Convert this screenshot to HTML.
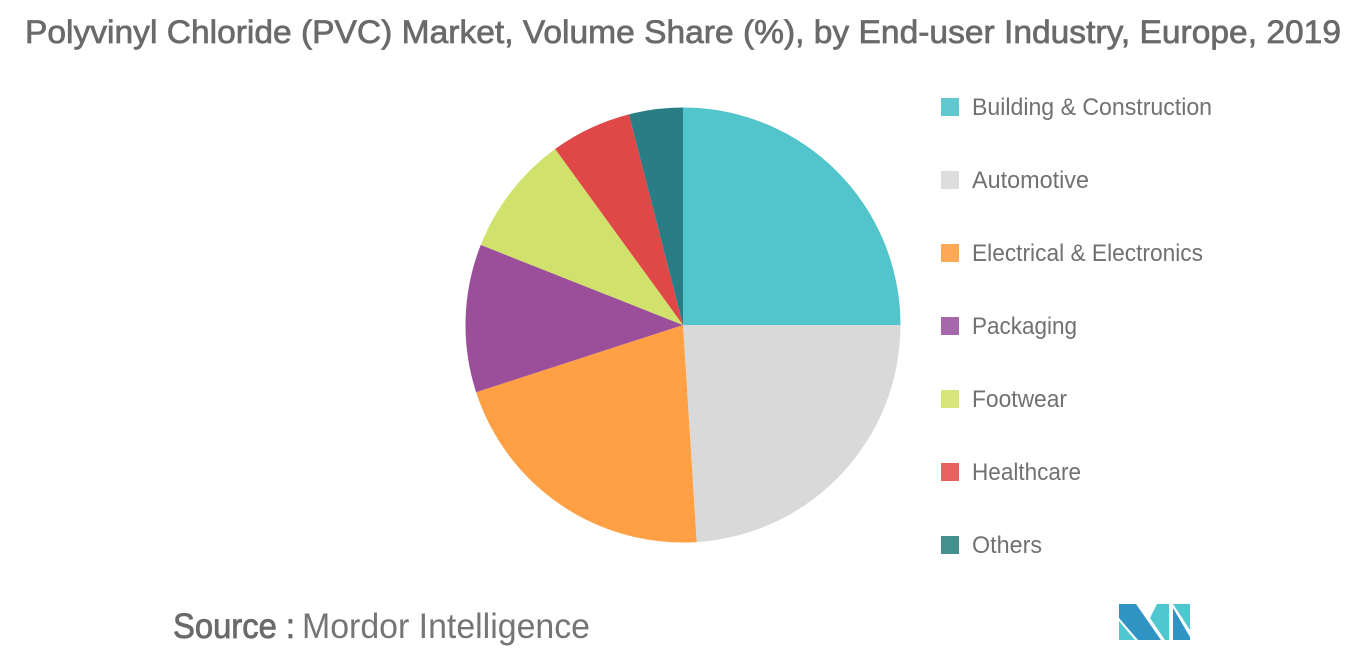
<!DOCTYPE html>
<html lang="en">
<head>
<meta charset="utf-8">
<title>Polyvinyl Chloride (PVC) Market, Volume Share</title>
<style>
html,body{margin:0;padding:0;background:#fff;width:1366px;height:655px;overflow:hidden}
svg{display:block}
text{font-family:"Liberation Sans",sans-serif}
</style>
</head>
<body>
<svg id="chart" width="1366" height="655" viewBox="0 0 1366 655" xmlns="http://www.w3.org/2000/svg">
  <text x="25" y="43" font-size="32" fill="#6a6a6a" stroke="#6a6a6a" stroke-width="0.7" textLength="1316" lengthAdjust="spacingAndGlyphs">Polyvinyl Chloride (PVC) Market, Volume Share (%), by End-user Industry, Europe, 2019</text>
  <g id="slices"></g>
  <g id="legend"></g>
  <text x="173" y="638" font-size="35" fill="#6a6a6a" stroke="#6a6a6a" stroke-width="0.8" textLength="122" lengthAdjust="spacingAndGlyphs">Source :</text>
  <text x="302" y="638" font-size="35" fill="#757575" textLength="288" lengthAdjust="spacingAndGlyphs">Mordor Intelligence</text>
  <g>
    <polygon points="1119,604 1136,604 1161,640 1138,640 1119,618" fill="#2f93c3"></polygon>
    <polygon points="1119,621 1135,640 1119,640" fill="#4fc7cf"></polygon>
    <polygon points="1157,604 1169,604 1169,640 1165,640 1150,618" fill="#4fc7cf"></polygon>
    <polygon points="1173,604 1190,604 1190,630" fill="#4fc7cf"></polygon>
    <polygon points="1173,608 1190,637 1190,640 1173,640" fill="#2f93c3"></polygon>
  </g>
</svg>
<script>
const categories = ["Building & Construction", "Automotive", "Electrical & Electronics", "Packaging", "Footwear", "Healthcare", "Others"];
const shareValues = [25, 24, 21, 11, 9, 6, 4];

const sliceColors = ["#52c4cb", "#d9d9d9", "#ffa045", "#9b4f9b", "#d0e26b", "#e04848", "#2a7d85"];
const swatchColors = ["#62c8d0", "#dddddd", "#ffa857", "#a767ab", "#d6e57c", "#e5625f", "#44908f"];
const legendTextWidths = [240, 117, 231, 105, 95, 109, 70];

const svgNS = "http://www.w3.org/2000/svg";
const centerX = 683, centerY = 325, radius = 217.5;
const total = shareValues.reduce((a, b) => a + b, 0);
const angleOf = v => (v / total) * 2 * Math.PI;
const px = a => centerX + radius * Math.sin(a);
const py = a => centerY - radius * Math.cos(a);

const slicesGroup = document.getElementById("slices");
let startAngle = 0;
shareValues.forEach((v, i) => {
  const endAngle = startAngle + angleOf(v);
  const large = endAngle - startAngle > Math.PI ? 1 : 0;
  const path = document.createElementNS(svgNS, "path");
  path.setAttribute("d", `M${centerX},${centerY}L${px(startAngle)},${py(startAngle)}A${radius},${radius} 0 ${large} 1 ${px(endAngle)},${py(endAngle)}Z`);
  path.setAttribute("fill", sliceColors[i]);
  
  
  const tip = document.createElementNS(svgNS, "title");
  tip.textContent = categories[i] + ": " + v + "%";
  path.appendChild(tip);
  slicesGroup.appendChild(path);
  startAngle = endAngle;
});

const legendGroup = document.getElementById("legend");
categories.forEach((name, i) => {
  const rowY = 107 + i * 73;
  const entry = document.createElementNS(svgNS, "g");
  
  
  const swatch = document.createElementNS(svgNS, "rect");
  swatch.setAttribute("x", 941);
  swatch.setAttribute("y", rowY - 9);
  swatch.setAttribute("width", 18);
  swatch.setAttribute("height", 18);
  swatch.setAttribute("fill", swatchColors[i]);
  
  
  const label = document.createElementNS(svgNS, "text");
  label.setAttribute("x", 972);
  label.setAttribute("y", rowY + 8);
  label.setAttribute("font-size", 24);
  label.setAttribute("fill", "#717171");
  label.setAttribute("textLength", legendTextWidths[i]);
  label.setAttribute("lengthAdjust", "spacingAndGlyphs");
  
  
  label.textContent = name;
  entry.appendChild(swatch);
  entry.appendChild(label);
  legendGroup.appendChild(entry);
});
</script>
</body>
</html>
